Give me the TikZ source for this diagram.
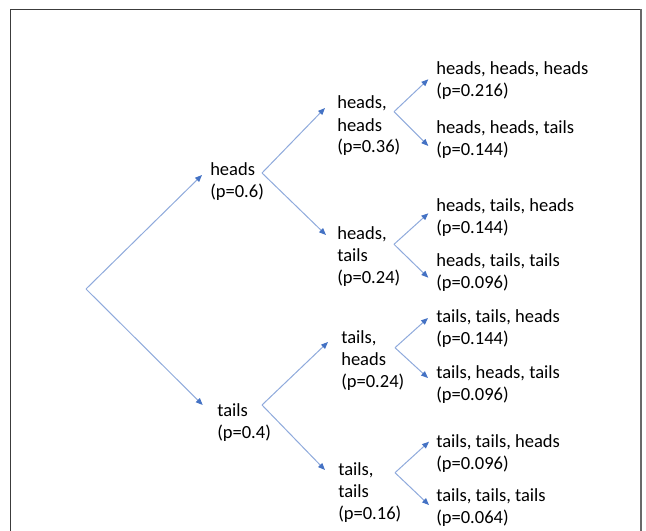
\documentclass[tikz,border=0pt]{standalone}
\usepackage{fontspec}
\setmainfont{Carlito}
\usetikzlibrary{arrows.meta}
\definecolor{linebl}{RGB}{143,170,220}
\definecolor{tipbl}{RGB}{68,114,196}
\definecolor{framegr}{RGB}{60,60,60}
\definecolor{framegr2}{RGB}{105,105,105}
\tikzset{
  lbl/.style={anchor=base west, inner sep=0pt, align=left, font=\fontsize{13.9}{16.5}\selectfont},
  conn/.style={draw=linebl, line width=0.75pt, -{Triangle[length=5.2pt,width=4.2pt,color=tipbl]}}
}
\begin{document}
\begin{tikzpicture}[x=0.75pt,y=-0.75pt]
\useasboundingbox (0,0) rectangle (646,531);
% frame
\draw[framegr, line width=1.1pt] (10.5,531) -- (10.5,9.5) -- (641,9.5);
\draw[framegr2, line width=1.5pt] (641,9.5) -- (641,531);
% labels (anchored at the baseline of the last line)
\node[lbl] (h) at (210,197.5) {heads\\(p=0.6)};
\node[lbl] (t) at (217,438.5) {tails\\(p=0.4)};
\node[lbl] (hh) at (337,153) {heads,\\heads\\(p=0.36)};
\node[lbl] (ht) at (337,283.5) {heads,\\tails\\(p=0.24)};
\node[lbl] (th) at (341,387) {tails,\\heads\\(p=0.24)};
\node[lbl] (tt) at (338,519.5) {tails,\\tails\\(p=0.16)};
\node[lbl] (hhh) at (436,96.5) {heads, heads, heads\\(p=0.216)};
\node[lbl] (hht) at (436,155.5) {heads, heads, tails\\(p=0.144)};
\node[lbl] (hth) at (436,233.5) {heads, tails, heads\\(p=0.144)};
\node[lbl] (htt) at (436,288.5) {heads, tails, tails\\(p=0.096)};
\node[lbl] (thh) at (436,344.5) {tails, tails, heads\\(p=0.144)};
\node[lbl] (tht) at (436,400.5) {tails, heads, tails\\(p=0.096)};
\node[lbl] (tth) at (436,469) {tails, tails, heads\\(p=0.096)};
\node[lbl] (ttt) at (436,523.5) {tails, tails, tails\\(p=0.064)};
% branch points
\coordinate (r) at (86,289);
\coordinate (hv) at (262,173);
\coordinate (tv) at (262,405);
\coordinate (hhv) at (394,111.7);
\coordinate (htv) at (394,244.3);
\coordinate (thv) at (395,347.7);
\coordinate (ttv) at (395,472.7);
% arrow ends
\coordinate (hin) at (202,175);
\coordinate (tin) at (202.7,405);
\coordinate (hhin) at (325,108);
\coordinate (htin) at (326,235);
\coordinate (thin) at (328,342);
\coordinate (ttin) at (325,470);
\coordinate (hhhin) at (428.3,79.3);
\coordinate (hhtin) at (428.3,146);
\coordinate (hthin) at (428.3,213.3);
\coordinate (httin) at (428.3,277.7);
\coordinate (thhin) at (428,318);
\coordinate (thtin) at (428,378);
\coordinate (tthin) at (429,441.7);
\coordinate (tttin) at (429,505);
% connectors
\draw[conn] (r) -- (hin);
\draw[conn] (r) -- (tin);
\draw[conn] (hv) -- (hhin);
\draw[conn] (hv) -- (htin);
\draw[conn] (tv) -- (thin);
\draw[conn] (tv) -- (ttin);
\draw[conn] (hhv) -- (hhhin);
\draw[conn] (hhv) -- (hhtin);
\draw[conn] (htv) -- (hthin);
\draw[conn] (htv) -- (httin);
\draw[conn] (thv) -- (thhin);
\draw[conn] (thv) -- (thtin);
\draw[conn] (ttv) -- (tthin);
\draw[conn] (ttv) -- (tttin);
\end{tikzpicture}
\end{document}
